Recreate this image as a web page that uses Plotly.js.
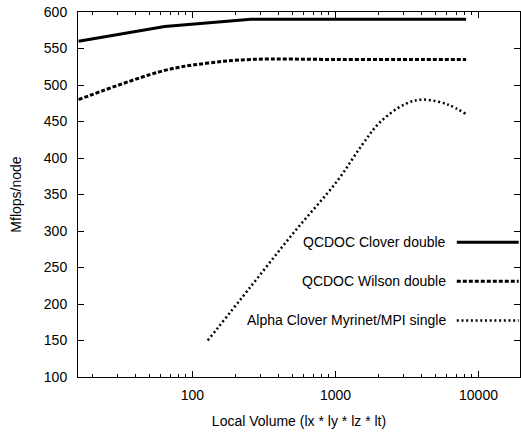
<!DOCTYPE html>
<html>
<head>
<meta charset="utf-8">
<script src="https://cdn.plot.ly/plotly-3.0.1.min.js"></script>
<style>html,body{margin:0;padding:0;background:#fff;}#chart{width:521px;height:432px;}</style>
</head>
<body>
<div id="chart"></div>
<script>
// Data
const seriesNames = ["QCDOC Clover double", "QCDOC Wilson double", "Alpha Clover Myrinet/MPI single"];
const cloverX = [16, 64, 256, 1024, 4096, 8192];
const cloverY = [560, 580, 590, 590, 590, 590];
const wilsonX = [16, 64, 128, 256, 1024, 4096, 8192];
const wilsonY = [480, 520, 530, 535, 535, 535, 535];
const alphaX = [128, 256, 512, 1024, 1536, 2048, 3072, 4096, 6144, 8192];
const alphaY = [150, 224, 298, 368, 418, 449, 474, 480, 473, 460];
const yTicks = [100, 150, 200, 250, 300, 350, 400, 450, 500, 550, 600];
const xTicks = [100, 1000, 10000];

const styles = [
  {width: 3, dash: "solid", shape: "linear"},
  {width: 3, dash: "4px,2px", shape: "spline"},
  {width: 2.5, dash: "2px,2.7px", shape: "spline"}
];
const xs = [cloverX, wilsonX, alphaX];
const ys = [cloverY, wilsonY, alphaY];

const traces = seriesNames.map((n, i) => ({
  x: xs[i], y: ys[i], name: n, type: "scatter", mode: "lines",
  line: {color: "#000", width: styles[i].width, dash: styles[i].dash, shape: styles[i].shape, smoothing: 1},
  showlegend: false, hoverinfo: "skip"
}));

// Gnuplot-style key: text then sample line, inside plot
const keyRows = [0.369, 0.262, 0.155];
const shapes = [], annotations = [];
seriesNames.forEach((n, i) => {
  annotations.push({xref: "paper", yref: "paper", x: 0.836, y: keyRows[i], text: n,
    showarrow: false, xanchor: "right", yanchor: "middle",
    font: {family: "Liberation Sans, Arial, sans-serif", size: 14, color: "#000"}});
  shapes.push({type: "line", xref: "paper", yref: "paper", x0: 0.857, x1: 0.997, y0: keyRows[i], y1: keyRows[i],
    line: {color: "#000", width: styles[i].width, dash: styles[i].dash}});
});

const font = {family: "Liberation Sans, Arial, sans-serif", size: 14, color: "#000"};
const layout = {
  width: 521, height: 432,
  margin: {l: 78, r: 1, t: 12, b: 55},
  paper_bgcolor: "#fff", plot_bgcolor: "#fff",
  font: font,
  showlegend: false,
  xaxis: {
    type: "log", range: [Math.log10(15.85), Math.log10(19500)],
    tickvals: xTicks, ticktext: xTicks.map(String),
    ticks: "inside", ticklen: 6, tickwidth: 1, tickcolor: "#000",
    minor: {ticks: "inside", ticklen: 3, tickcolor: "#000", dtick: "D1"},
    showline: true, linecolor: "#000", linewidth: 1, mirror: "allticks",
    showgrid: false, zeroline: false, ticklabelstandoff: 5,
    title: {text: "Local Volume (lx * ly * lz * lt)", font: font, standoff: 14}
  },
  yaxis: {
    range: [100, 600], tickvals: yTicks,
    ticks: "inside", ticklen: 6, tickwidth: 1, tickcolor: "#000",
    showline: true, linecolor: "#000", linewidth: 1, mirror: "allticks",
    showgrid: false, zeroline: false, ticklabelstandoff: 7,
    title: {text: "Mflops/node", font: font, standoff: 18}
  },
  shapes: shapes,
  annotations: annotations
};

Plotly.newPlot("chart", traces, layout, {displayModeBar: false, staticPlot: true});
</script>
</body>
</html>
